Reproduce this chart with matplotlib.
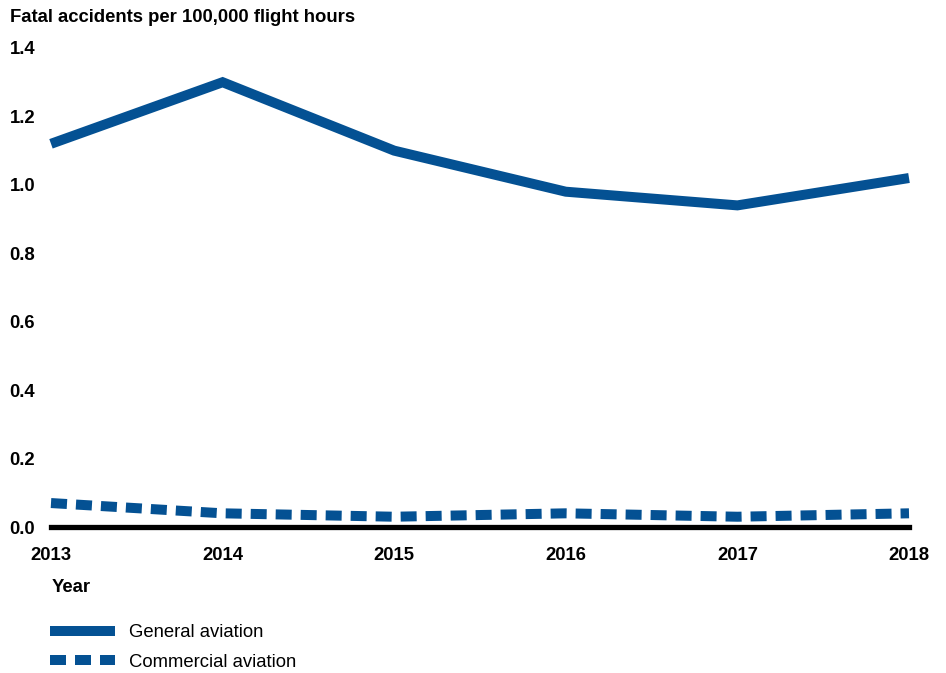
import matplotlib
matplotlib.use("Agg")
import matplotlib.pyplot as plt

years = [2013, 2014, 2015, 2016, 2017, 2018]
general_aviation = [1.12, 1.30, 1.10, 0.98, 0.94, 1.02]
commercial_aviation = [0.07, 0.04, 0.03, 0.04, 0.03, 0.04]
y_ticks = [0.0, 0.2, 0.4, 0.6, 0.8, 1.0, 1.2, 1.4]

BLUE = "#045193"
FS = 13.3
plt.rcParams["font.family"] = ["Liberation Sans", "DejaVu Sans"]

fig = plt.figure(figsize=(9.46, 6.73), dpi=100)
ax = fig.add_axes([51 / 946, 146 / 673, (909 - 51) / 946, (527 - 48) / 673])

ax.plot(years, general_aviation, color=BLUE, lw=7.2, solid_capstyle="butt",
        solid_joinstyle="miter", label="General aviation", clip_on=False)
ax.plot(years, commercial_aviation, color=BLUE, lw=7.2, dashes=(1.6, 0.9),
        dash_capstyle="butt", label="Commercial aviation", clip_on=False)
ax.axhline(0, color="black", lw=3.8, clip_on=False, zorder=1)

ax.set_xlim(2013, 2018)
ax.set_ylim(0, 1.4)
ax.set_xticks(years)
ax.set_xticklabels([str(y) for y in years], fontsize=FS, fontweight="bold")
ax.set_yticks(y_ticks)
ax.set_yticklabels([f"{v:.1f}" for v in y_ticks], fontsize=FS, fontweight="bold")
ax.tick_params(axis="x", length=0, pad=14.5)
ax.tick_params(axis="y", length=0, pad=11.5)
for s in ax.spines.values():
    s.set_visible(False)

fig.text(10 / 946, 1 - 17 / 673, "Fatal accidents per 100,000 flight hours",
         fontsize=FS, fontweight="bold", va="center", ha="left")
fig.text(52 / 946, 1 - 587 / 673, "Year", fontsize=FS, fontweight="bold",
         va="center", ha="left")

fig.legend(loc="upper left", bbox_to_anchor=(50 / 946, 1 - 624 / 673),
           frameon=False, fontsize=FS, handlelength=3.5, handletextpad=0.8,
           labelspacing=0.7, borderaxespad=0, borderpad=0)

fig.savefig("out.png", dpi=100)
